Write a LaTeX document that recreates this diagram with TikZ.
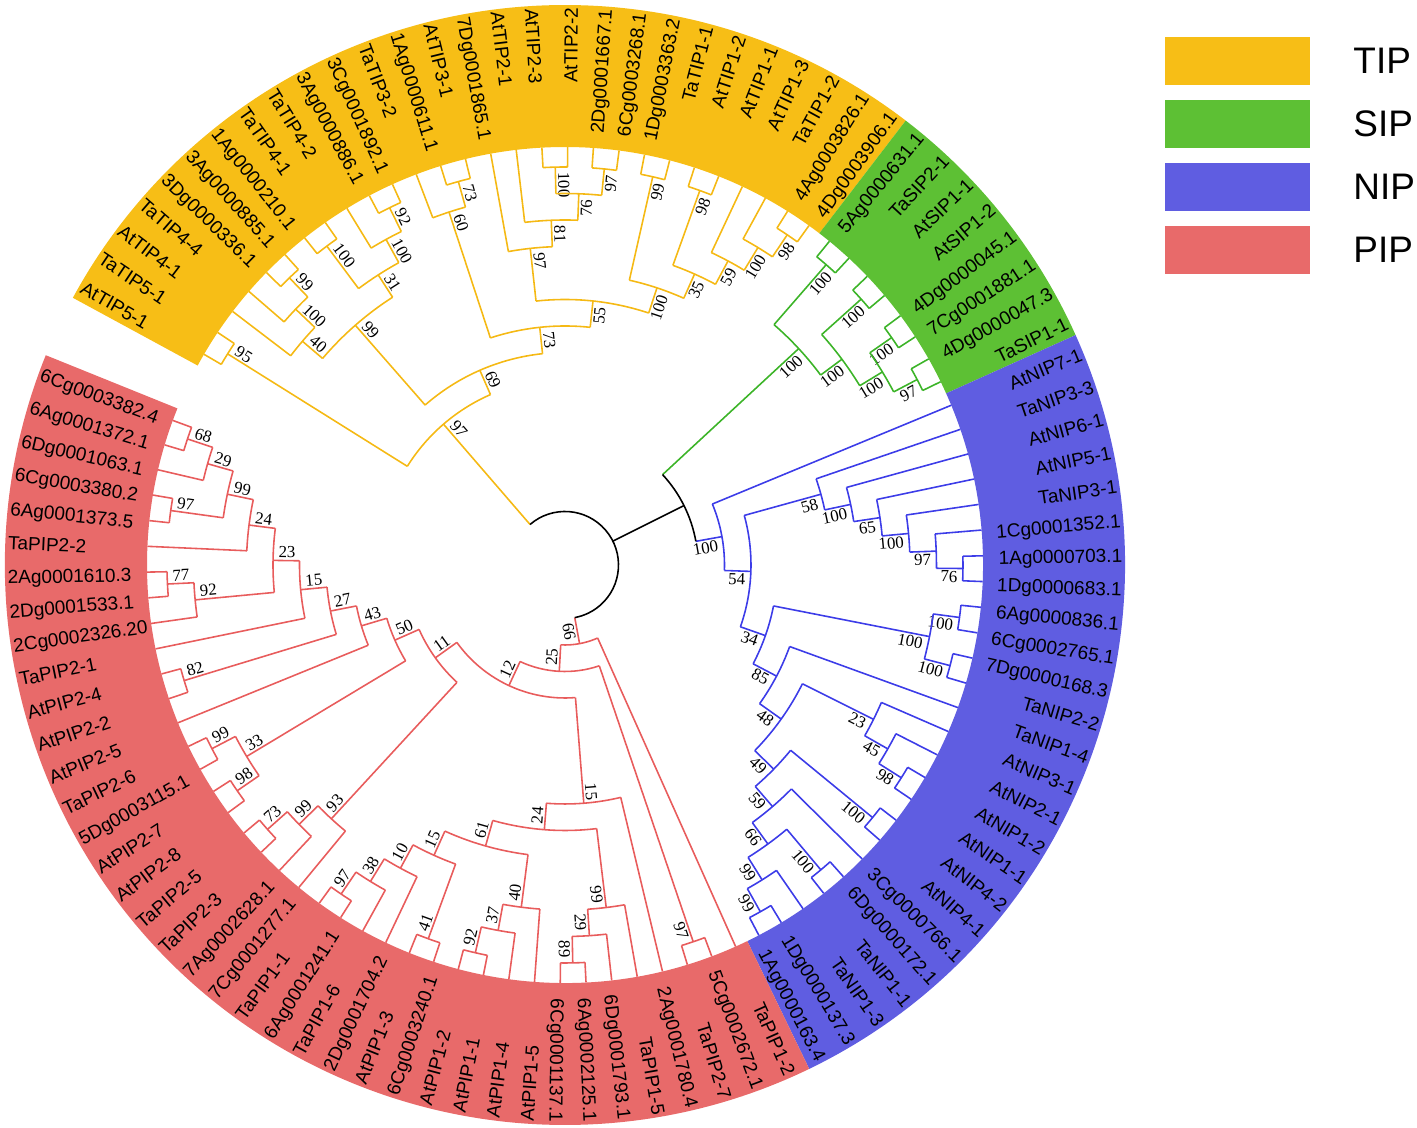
\documentclass[tikz,border=0pt]{standalone}
\usepackage{fontspec}
\setmainfont{Liberation Sans}
\newfontfamily\bsfont{Liberation Serif}
\usetikzlibrary{positioning}

\definecolor{tipc}{RGB}{247,190,22}
\definecolor{sipc}{RGB}{93,192,52}
\definecolor{nipc}{RGB}{95,93,225}
\definecolor{pipc}{RGB}{232,106,106}
\definecolor{tipl}{RGB}{245,185,20}
\definecolor{sipl}{RGB}{60,180,40}
\definecolor{nipl}{RGB}{60,60,232}
\definecolor{pipl}{RGB}{232,92,92}

\tikzset{
  br/.style={line width=0.45pt},
  leaflab/.style={inner sep=0pt, font=\fontsize{5.4}{6}\selectfont},
  boot/.style={inner sep=0.5pt, font=\bsfont\fontsize{4.8}{5.5}\selectfont},
  legbox/.style={minimum width=1.45cm, minimum height=0.48cm, inner sep=0pt},
  legtxt/.style={inner sep=0pt, font=\fontsize{10.5}{12}\selectfont}
}

% leaf: index, colour, text
\newcommand\leaf[3]{%
  \pgfmathsetmacro\lfA{149.73-(#1-1)*3.535}%
  \expandafter\xdef\csname AL#1\endcsname{\lfA}%
  \expandafter\xdef\csname CL#1\endcsname{#2}%
  \coordinate (L#1) at (\lfA:418);
  \pgfmathsetmacro\lfC{cos(\lfA)}%
  \ifdim\lfC pt>-0.02pt
    \node[leaflab, rotate=\lfA, anchor=mid east] (L#1t) at (\lfA:558) {#3};
  \else
    \pgfmathsetmacro\lfR{\lfA+180}%
    \node[leaflab, rotate=\lfR, anchor=mid west] (L#1t) at (\lfA:558) {#3};
  \fi}

% bootstrap value beside a node
\newcommand\bootlab[2]{%
  \pgfmathsetmacro\blC{cos(\cdM)}%
  \pgfmathsetmacro\blR{\cdR-3}%
  \ifdim\blC pt>-0.02pt
    \node[boot, rotate=\cdM, anchor=north east] (#1b) at (\cdM:\blR) {#2};
  \else
    \pgfmathsetmacro\blT{\cdM+180}%
    \node[boot, rotate=\blT, anchor=south west] (#1b) at (\cdM:\blR) {#2};
  \fi}

% clade: name, height, child, child, colour, bootstrap
\newcommand\clade[6]{%
  \pgfmathsetmacro\cdA{\csname A#3\endcsname}%
  \pgfmathsetmacro\cdB{\csname A#4\endcsname}%
  \pgfmathsetmacro\cdM{(\cdA+\cdB)/2}%
  \pgfmathsetmacro\cdR{424.5-26.5*#2}%
  \expandafter\xdef\csname A#1\endcsname{\cdM}%
  \expandafter\xdef\csname C#1\endcsname{#5}%
  \coordinate (#1) at (\cdM:\cdR);
  \edef\cdP{\csname C#3\endcsname}%
  \draw[br, draw=\cdP] (#3) -- (\cdA:\cdR);
  \edef\cdP{\csname C#4\endcsname}%
  \draw[br, draw=\cdP] (#4) -- (\cdB:\cdR);
  \draw[br, draw=#5] (\cdA:\cdR) arc[start angle=\cdA, end angle=\cdB, radius=\cdR];
  \def\cdT{#6}%
  \ifx\cdT\empty\else\bootlab{#1}{#6}\fi}

\newcommand\sector[3]{%
  \fill[#3] (#1:418) arc[start angle=#1, end angle=#2, radius=418]
    -- (#2:560) arc[start angle=#2, end angle=#1, radius=560] -- cycle;}

\begin{document}
\begin{tikzpicture}[x=0.01cm, y=0.01cm]
\useasboundingbox (-565,-563) rectangle (852,565);

% coloured ring
\sector{151.5}{52.52}{tipc}
\sector{52.52}{24.24}{sipc}
\sector{24.24}{-64.14}{nipc}
\sector{-64.14}{-202.0}{pipc}

% TIP leaves
\leaf{1}{tipl}{AtTIP5-1}
\leaf{2}{tipl}{TaTIP5-1}
\leaf{3}{tipl}{AtTIP4-1}
\leaf{4}{tipl}{TaTIP4-4}
\leaf{5}{tipl}{3Dg0000336.1}
\leaf{6}{tipl}{3Ag0000885.1}
\leaf{7}{tipl}{1Ag0000210.1}
\leaf{8}{tipl}{TaTIP4-1}
\leaf{9}{tipl}{TaTIP4-2}
\leaf{10}{tipl}{3Ag0000886.1}
\leaf{11}{tipl}{3Cg0001892.1}
\leaf{12}{tipl}{TaTIP3-2}
\leaf{13}{tipl}{1Ag0000611.1}
\leaf{14}{tipl}{AtTIP3-1}
\leaf{15}{tipl}{7Dg0001865.1}
\leaf{16}{tipl}{AtTIP2-1}
\leaf{17}{tipl}{AtTIP2-3}
\leaf{18}{tipl}{AtTIP2-2}
\leaf{19}{tipl}{2Dg0001667.1}
\leaf{20}{tipl}{6Cg0003268.1}
\leaf{21}{tipl}{1Dg0003363.2}
\leaf{22}{tipl}{TaTIP1-1}
\leaf{23}{tipl}{AtTIP1-2}
\leaf{24}{tipl}{AtTIP1-1}
\leaf{25}{tipl}{AtTIP1-3}
\leaf{26}{tipl}{TaTIP1-2}
\leaf{27}{tipl}{4Ag0003826.1}
\leaf{28}{tipl}{4Dg0003906.1}
% SIP leaves
\leaf{29}{sipl}{5Ag0000631.1}
\leaf{30}{sipl}{TaSIP2-1}
\leaf{31}{sipl}{AtSIP1-1}
\leaf{32}{sipl}{AtSIP1-2}
\leaf{33}{sipl}{4Dg0000045.1}
\leaf{34}{sipl}{7Cg0001881.1}
\leaf{35}{sipl}{4Dg0000047.3}
\leaf{36}{sipl}{TaSIP1-1}
% NIP leaves
\leaf{37}{nipl}{AtNIP7-1}
\leaf{38}{nipl}{TaNIP3-3}
\leaf{39}{nipl}{AtNIP6-1}
\leaf{40}{nipl}{AtNIP5-1}
\leaf{41}{nipl}{TaNIP3-1}
\leaf{42}{nipl}{1Cg0001352.1}
\leaf{43}{nipl}{1Ag0000703.1}
\leaf{44}{nipl}{1Dg0000683.1}
\leaf{45}{nipl}{6Ag0000836.1}
\leaf{46}{nipl}{6Cg0002765.1}
\leaf{47}{nipl}{7Dg0000168.3}
\leaf{48}{nipl}{TaNIP2-2}
\leaf{49}{nipl}{TaNIP1-4}
\leaf{50}{nipl}{AtNIP3-1}
\leaf{51}{nipl}{AtNIP2-1}
\leaf{52}{nipl}{AtNIP1-2}
\leaf{53}{nipl}{AtNIP1-1}
\leaf{54}{nipl}{AtNIP4-2}
\leaf{55}{nipl}{AtNIP4-1}
\leaf{56}{nipl}{3Cg0000766.1}
\leaf{57}{nipl}{6Dg0000172.1}
\leaf{58}{nipl}{TaNIP1-1}
\leaf{59}{nipl}{TaNIP1-3}
\leaf{60}{nipl}{1Dg0000137.3}
\leaf{61}{nipl}{1Ag0000163.4}
% PIP leaves
\leaf{62}{pipl}{TaPIP1-2}
\leaf{63}{pipl}{5Cg0002672.1}
\leaf{64}{pipl}{TaPIP2-7}
\leaf{65}{pipl}{2Ag0001780.4}
\leaf{66}{pipl}{TaPIP1-5}
\leaf{67}{pipl}{6Dg0001793.1}
\leaf{68}{pipl}{6Ag0002125.1}
\leaf{69}{pipl}{6Cg0001137.1}
\leaf{70}{pipl}{AtPIP1-5}
\leaf{71}{pipl}{AtPIP1-4}
\leaf{72}{pipl}{AtPIP1-1}
\leaf{73}{pipl}{AtPIP1-2}
\leaf{74}{pipl}{6Cg0003240.1}
\leaf{75}{pipl}{AtPIP1-3}
\leaf{76}{pipl}{2Dg0001704.2}
\leaf{77}{pipl}{TaPIP1-6}
\leaf{78}{pipl}{6Ag0001241.1}
\leaf{79}{pipl}{TaPIP1-1}
\leaf{80}{pipl}{7Cg0001277.1}
\leaf{81}{pipl}{7Ag0002628.1}
\leaf{82}{pipl}{TaPIP2-3}
\leaf{83}{pipl}{TaPIP2-5}
\leaf{84}{pipl}{AtPIP2-8}
\leaf{85}{pipl}{AtPIP2-7}
\leaf{86}{pipl}{5Dg0003115.1}
\leaf{87}{pipl}{TaPIP2-6}
\leaf{88}{pipl}{AtPIP2-5}
\leaf{89}{pipl}{AtPIP2-2}
\leaf{90}{pipl}{AtPIP2-4}
\leaf{91}{pipl}{TaPIP2-1}
\leaf{92}{pipl}{2Cg0002326.20}
\leaf{93}{pipl}{2Dg0001533.1}
\leaf{94}{pipl}{2Ag0001610.3}
\leaf{95}{pipl}{TaPIP2-2}
\leaf{96}{pipl}{6Ag0001373.5}
\leaf{97}{pipl}{6Cg0003380.2}
\leaf{98}{pipl}{6Dg0001063.1}
\leaf{99}{pipl}{6Ag0001372.1}
\leaf{100}{pipl}{6Cg0003382.4}

% TIP clades
\clade{t95}{1}{L1}{L2}{tipl}{95}
\clade{t99a}{1}{L5}{L6}{tipl}{99}
\clade{t100a}{2}{L4}{t99a}{tipl}{100}
\clade{t40}{3}{L3}{t100a}{tipl}{40}
\clade{t100b}{1}{L7}{L8}{tipl}{100}
\clade{t92}{1}{L10}{L11}{tipl}{92}
\clade{t100c}{2}{L9}{t92}{tipl}{100}
\clade{t31}{3}{t100b}{t100c}{tipl}{31}
\clade{t99b}{4}{t40}{t31}{tipl}{99}
\clade{t73a}{1}{L13}{L14}{tipl}{73}
\clade{t60}{2}{L12}{t73a}{tipl}{60}
\clade{t100d}{1}{L17}{L18}{tipl}{100}
\clade{t97a}{1}{L19}{L20}{tipl}{97}
\clade{t76}{2}{t100d}{t97a}{tipl}{76}
\clade{t81}{3}{L16}{t76}{tipl}{81}
\clade{t97b}{4}{L15}{t81}{tipl}{97}
\clade{t99c}{1}{L21}{L22}{tipl}{99}
\clade{t98a}{1}{L23}{L24}{tipl}{98}
\clade{t98b}{1}{L27}{L28}{tipl}{98}
\clade{t100e}{2}{L26}{t98b}{tipl}{100}
\clade{t59}{3}{L25}{t100e}{tipl}{59}
\clade{t35}{4}{t98a}{t59}{tipl}{35}
\clade{t100f}{5}{t99c}{t35}{tipl}{100}
\clade{t55}{6}{t97b}{t100f}{tipl}{55}
\clade{t73b}{7}{t60}{t55}{tipl}{73}
\clade{t69}{8}{t99b}{t73b}{tipl}{69}
\clade{tip}{9}{t95}{t69}{tipl}{97}

% SIP clades
\clade{s100a}{1}{L29}{L30}{sipl}{100}
\clade{s100b}{1}{L31}{L32}{sipl}{100}
\clade{s100c}{1}{L33}{L34}{sipl}{100}
\clade{s97}{1}{L35}{L36}{sipl}{97}
\clade{s100d}{2}{s100c}{s97}{sipl}{100}
\clade{s100e}{3}{s100b}{s100d}{sipl}{100}
\clade{sip}{4}{s100a}{s100e}{sipl}{100}

% NIP clades
\clade{n76}{1}{L43}{L44}{nipl}{76}
\clade{n97}{2}{L42}{n76}{nipl}{97}
\clade{n100a}{3}{L41}{n97}{nipl}{100}
\clade{n65}{4}{L40}{n100a}{nipl}{65}
\clade{n100b}{5}{L39}{n65}{nipl}{100}
\clade{n58}{6}{L38}{n100b}{nipl}{58}
\clade{n100c}{1}{L45}{L46}{nipl}{100}
\clade{n100d}{1}{L47}{L48}{nipl}{100}
\clade{n100e}{2}{n100c}{n100d}{nipl}{100}
\clade{n98}{1}{L52}{L53}{nipl}{98}
\clade{n45}{2}{L51}{n98}{nipl}{45}
\clade{n23}{3}{L50}{n45}{nipl}{23}
\clade{n100f}{1}{L54}{L55}{nipl}{100}
\clade{n100g}{1}{L57}{L58}{nipl}{100}
\clade{n99a}{1}{L60}{L61}{nipl}{99}
\clade{n99b}{2}{L59}{n99a}{nipl}{99}
\clade{n66}{3}{n100g}{n99b}{nipl}{66}
\clade{n59}{4}{L56}{n66}{nipl}{59}
\clade{n49}{5}{n100f}{n59}{nipl}{49}
\clade{n48}{6}{n23}{n49}{nipl}{48}
\clade{n85}{7}{L49}{n48}{nipl}{85}
\clade{n34}{8}{n100e}{n85}{nipl}{34}
\clade{n54}{9}{n58}{n34}{nipl}{54}
\clade{nip}{10}{L37}{n54}{nipl}{100}

% PIP clades
\clade{p68}{1}{L99}{L100}{pipl}{68}
\clade{p29}{2}{L98}{p68}{pipl}{29}
\clade{p97}{1}{L96}{L97}{pipl}{97}
\clade{p99a}{3}{p97}{p29}{pipl}{99}
\clade{p24a}{4}{L95}{p99a}{pipl}{24}
\clade{p77}{1}{L93}{L94}{pipl}{77}
\clade{p92a}{2}{L92}{p77}{pipl}{92}
\clade{p23}{5}{p92a}{p24a}{pipl}{23}
\clade{p15a}{6}{L91}{p23}{pipl}{15}
\clade{p82}{1}{L89}{L90}{pipl}{82}
\clade{p27}{7}{p82}{p15a}{pipl}{27}
\clade{p43}{8}{L88}{p27}{pipl}{43}
\clade{p99b}{1}{L86}{L87}{pipl}{99}
\clade{p98}{1}{L84}{L85}{pipl}{98}
\clade{p33}{2}{p98}{p99b}{pipl}{33}
\clade{p50}{9}{p33}{p43}{pipl}{50}
\clade{p73}{1}{L82}{L83}{pipl}{73}
\clade{p99c}{2}{L81}{p73}{pipl}{99}
\clade{p93}{3}{L80}{p99c}{pipl}{93}
\clade{p11}{10}{p93}{p50}{pipl}{11}
\clade{p97b}{1}{L78}{L79}{pipl}{97}
\clade{p38}{2}{L77}{p97b}{pipl}{38}
\clade{p10}{3}{L76}{p38}{pipl}{10}
\clade{p41}{1}{L74}{L75}{pipl}{41}
\clade{p15b}{4}{p41}{p10}{pipl}{15}
\clade{p92b}{1}{L72}{L73}{pipl}{92}
\clade{p37}{2}{L71}{p92b}{pipl}{37}
\clade{p40}{3}{L70}{p37}{pipl}{40}
\clade{p61}{5}{p40}{p15b}{pipl}{61}
\clade{p89}{1}{L68}{L69}{pipl}{89}
\clade{p29b}{2}{L67}{p89}{pipl}{29}
\clade{p99d}{3}{L66}{p29b}{pipl}{99}
\clade{p24b}{6}{p99d}{p61}{pipl}{24}
\clade{p15c}{7}{L65}{p24b}{pipl}{}
\node[boot, rotate=\cdM, anchor=south east] (p15cb) at (\cdM:\cdR) {15};
\clade{p12}{11}{p15c}{p11}{pipl}{12}
\clade{p97c}{1}{L63}{L64}{pipl}{97}
\clade{p25}{12}{p97c}{p12}{pipl}{25}
\clade{pip}{13}{L62}{p25}{pipl}{66}

% SIP+NIP and root
\clade{sn}{11}{sip}{nip}{black}{}
\pgfmathsetmacro\rtA{\csname Atip\endcsname}
\pgfmathsetmacro\rtB{\csname Apip\endcsname}
\pgfmathsetmacro\rtS{\csname Asn\endcsname}
\coordinate (root) at (\rtS:53.5);
\draw[br, draw=tipl] (tip) -- (\rtA:53.5);
\draw[br, draw=pipl] (pip) -- (\rtB:53.5);
\draw[br, draw=black] (sn) -- (root);
\draw[br, draw=black] (\rtA:53.5) arc[start angle=\rtA, end angle=\rtB, radius=53.5];

% legend
\node[legbox, fill=tipc] (kTIP) at (672.5,504) {};
\node[legbox, fill=sipc] (kSIP) at (672.5,441) {};
\node[legbox, fill=nipc] (kNIP) at (672.5,378) {};
\node[legbox, fill=pipc] (kPIP) at (672.5,315) {};
\node[legtxt, right=0.42cm of kTIP] (kTIPt) {TIP};
\node[legtxt, right=0.42cm of kSIP] (kSIPt) {SIP};
\node[legtxt, right=0.42cm of kNIP] (kNIPt) {NIP};
\node[legtxt, right=0.42cm of kPIP] (kPIPt) {PIP};
\end{tikzpicture}
\end{document}
